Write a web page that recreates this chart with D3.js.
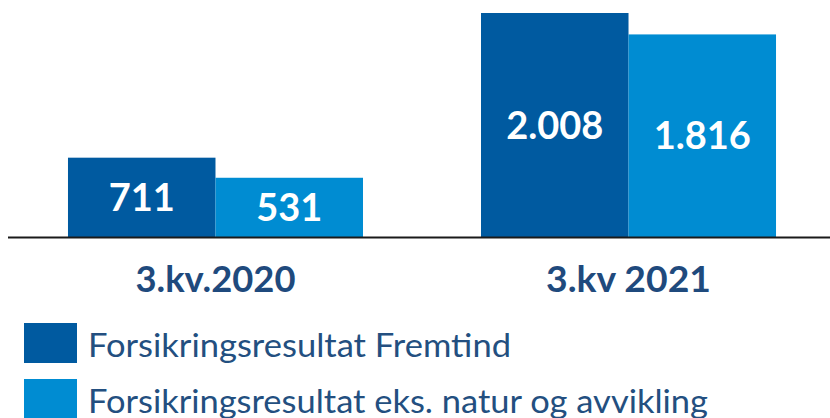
<!DOCTYPE html>
<html>
<head>
<meta charset="utf-8">
<script src="https://cdn.jsdelivr.net/npm/d3@7"></script>
<style>
  body { margin: 0; background: #fff; }
  text { font-family: Lato, "Open Sans", sans-serif; }
</style>
</head>
<body>
<script>
var svgWidth = 830;
var svgHeight = 418;

// Data
var kategorier = ["3.kv.2020", "3.kv 2021"];
var serier = ["Forsikringsresultat Fremtind", "Forsikringsresultat eks. natur og avvikling"];
var fremtind = [711, 2008];
var eksNatur = [531, 1816];
var farger = ["#005aa0", "#008cd2"];

// Norsk tallformat (punktum som tusenskille)
var nb = d3.formatLocale({ decimal: ",", thousands: ".", grouping: [3], currency: ["kr ", ""] });
var fmt = nb.format(",d");

var svg = d3.select("body")
  .append("svg")
  .attr("width", svgWidth)
  .attr("height", svgHeight);

var data = kategorier.map(function(k, i) {
  return { kategori: k, verdier: [fremtind[i], eksNatur[i]] };
});

// Skalaer
var x0 = d3.scaleBand()
  .domain(kategorier)
  .range([9, 835])
  .paddingInner(0.2857)
  .paddingOuter(0.1428);

var x1 = d3.scaleBand()
  .domain([0, 1])
  .range([0, x0.bandwidth()]);

var yScale = d3.scaleLinear()
  .domain([0, d3.max(fremtind.concat(eksNatur))])
  .range([237, 13]);

// Stolper
var grupper = svg.selectAll("g.gruppe")
  .data(data)
  .enter().append("g")
  .attr("class", "gruppe")
  .attr("transform", function(d) { return "translate(" + x0(d.kategori) + ",0)"; });

grupper.selectAll("rect")
  .data(function(d) { return d.verdier; })
  .enter().append("rect")
  .attr("x", function(d, i) { return x1(i); })
  .attr("y", function(d) { return yScale(d); })
  .attr("width", x1.bandwidth())
  .attr("height", function(d) { return yScale(0) - yScale(d); })
  .attr("fill", function(d, i) { return farger[i]; });

grupper.selectAll("text.verdi")
  .data(function(d) { return d.verdier; })
  .enter().append("text")
  .attr("class", "verdi")
  .attr("x", function(d, i) { return x1(i) + x1.bandwidth() / 2; })
  .attr("y", function(d) { return (yScale(d) + yScale(0)) / 2; })
  .attr("dy", "0.36em")
  .attr("text-anchor", "middle")
  .attr("fill", "#fff")
  .attr("font-weight", "bold")
  .attr("font-size", 38)
  .text(function(d) { return fmt(d); });

// Grunnlinje
svg.append("line")
  .attr("x1", 8).attr("x2", 830)
  .attr("y1", yScale(0) + 0.5).attr("y2", yScale(0) + 0.5)
  .attr("stroke", "#1a1a1a")
  .attr("stroke-width", 2);

// Kategori-etiketter
svg.selectAll("text.kategori")
  .data(kategorier)
  .enter().append("text")
  .attr("class", "kategori")
  .attr("x", function(d) { return x0(d) + x0.bandwidth() / 2; })
  .attr("y", 292)
  .attr("text-anchor", "middle")
  .attr("fill", "#1f4a7d")
  .attr("font-weight", "bold")
  .attr("font-size", 37)
  .attr("textLength", function(d, i) { return [160, 165][i]; })
  .attr("lengthAdjust", "spacingAndGlyphs")
  .text(function(d) { return d; });

// Forklaring
var legend = svg.selectAll("g.legend")
  .data(serier)
  .enter().append("g")
  .attr("class", "legend")
  .attr("transform", function(d, i) { return "translate(24," + (323 + i * 56) + ")"; });

legend.append("rect")
  .attr("width", 53)
  .attr("height", 40)
  .attr("fill", function(d, i) { return farger[i]; });

legend.append("text")
  .attr("x", 64)
  .attr("y", 34)
  .attr("fill", "#234f80")
  .attr("font-size", 32)
  .attr("textLength", function(d, i) { return [423, 620][i]; })
  .attr("lengthAdjust", "spacingAndGlyphs")
  .text(function(d) { return d; });
</script>
</body>
</html>
